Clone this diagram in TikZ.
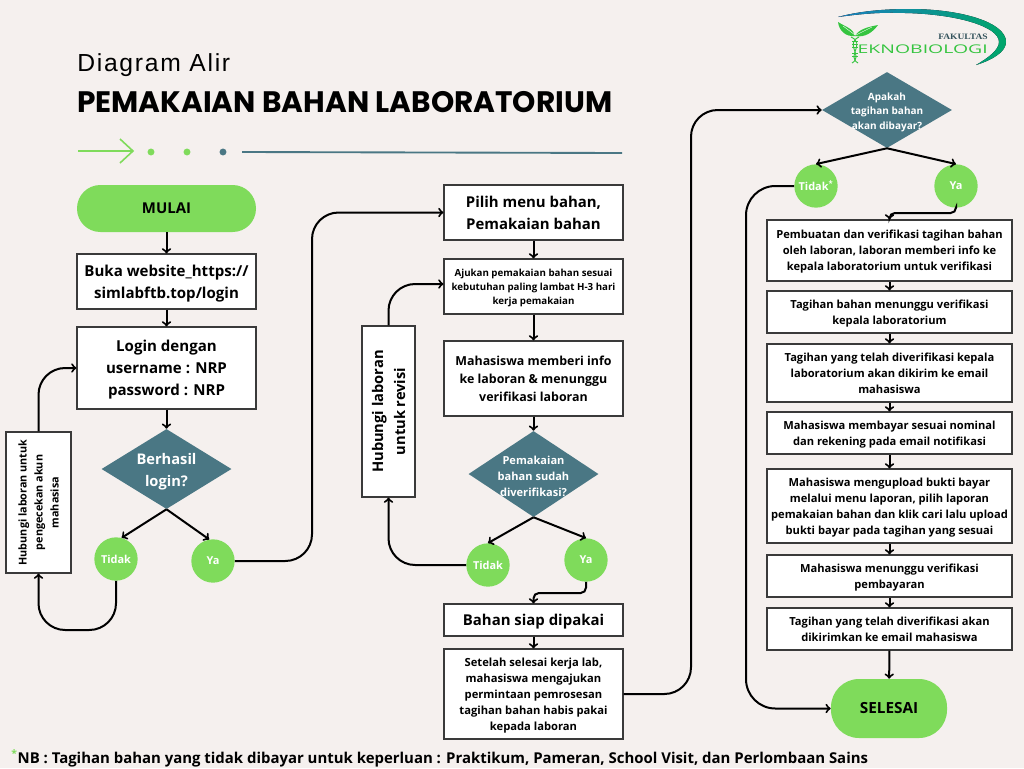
\documentclass[tikz,border=0pt]{standalone}
\usepackage{fontspec}
\setmainfont{Open Sans}
\newfontfamily\titlefont{Poppins}
\newfontfamily\subtitlefont[LetterSpace=7]{Liberation Sans}
\newfontfamily\logoserif{Liberation Serif}
\usepackage{xcolor}
\usepackage{tikz}
\usetikzlibrary{shapes.geometric}
\definecolor{pagebg}{HTML}{F5F0EE}
\definecolor{nodegreen}{HTML}{7FDB5B}
\definecolor{nodeteal}{HTML}{4A7784}
\definecolor{edgegrey}{HTML}{3A3A3A}
\definecolor{logogreen}{HTML}{35C43F}
\definecolor{logoblue}{HTML}{1A7FC0}
\definecolor{logoemerald}{HTML}{00A66A}
\tikzset{
  flow/.style={->, line width=1.5pt, black},
  boxnode/.style={rectangle, draw=edgegrey, line width=0.8pt, fill=white, align=center, inner sep=0pt, text depth=0pt, font=\bfseries},
  sidebox/.style={boxnode, minimum width=134.25pt},
  rightbox/.style={boxnode, minimum width=183.75pt, text depth=-2pt, font=\bfseries\fontsize{8.35}{12}\selectfont},
  decision/.style={diamond, fill=nodeteal, minimum width=97.5pt, inner sep=0pt},
  decisiontext/.style={align=center, text=white, yshift=-1.5pt, font=\bfseries\fontsize{7.5}{10.8}\selectfont},
  yesno/.style={circle, fill=nodegreen, minimum size=32.5pt, inner sep=0pt, text=white, font=\bfseries\fontsize{8.2}{10}\selectfont},
  terminal/.style={rectangle, rounded corners=17.5pt, fill=nodegreen, align=center, font=\bfseries\fontsize{11.2}{12}\selectfont},
}
\begin{document}
\begin{tikzpicture}[x=0.75pt, y=-0.75pt]
\fill[pagebg] (0,0) rectangle (1024,768);
\useasboundingbox (0,0) rectangle (1024,768);

% heading
\node[anchor=base west, inner sep=0pt, font=\subtitlefont\fontsize{18.5}{20}\selectfont] (subtitle) at (77,71) {Diagram Alir};
\node[anchor=base west, inner sep=0pt, font=\titlefont\bfseries\fontsize{22.2}{24}\selectfont] (title) at (77,112) {PEMAKAIAN BAHAN LABORATORIUM};
\draw[nodegreen, line width=1.2pt] (78,151) -- (133,151) (120,139) -- (133,151) -- (120,163);
\fill[nodegreen] (151,152) circle (2.6pt);
\fill[nodegreen] (187,152) circle (2.6pt);
\fill[nodeteal] (223,152) circle (2.6pt);
\draw[nodeteal, line width=1.4pt] (242,152) -- (622,153);

% logo
\fill[left color=logoblue, right color=logoemerald] (838,17) .. controls (860,11) and (885,9) .. (910,9) .. controls (960,9) and (1006,22) .. (1006,42) .. controls (1006,52) and (992,60) .. (976,65) .. controls (988,58) and (999,50) .. (999,42) .. controls (999,26) and (955,14) .. (905,13) .. controls (880,12) and (860,14) .. (838,17);
\fill[logogreen] (855,36) .. controls (854,29) and (846,27) .. (838,22) .. controls (839,31) and (846,37) .. (855,36);
\fill[logogreen] (855,36) .. controls (859,29) and (868,27) .. (878,25) .. controls (873,32) and (865,38) .. (855,36);
\draw[white, line width=0.3pt] (855,35) -- (843,26) (856,35) -- (872,27);
\draw[logogreen, line width=0.7pt] (851,37) .. controls (866,44) and (846,56) .. (858,63) (859,37) .. controls (844,44) and (864,56) .. (852,63);
\draw[logogreen, line width=0.5pt] (852,41) -- (858,41) (852,44) -- (858,44) (852,47) -- (858,47) (852,53) -- (858,53) (852,56) -- (858,56);
\node[anchor=base east, inner sep=0pt, text=nodeteal!70!black, font=\logoserif\bfseries\fontsize{6.2}{7}\selectfont] (logotop) at (988,39) {\scalebox{1.15}[1]{FAKULTAS}};
\node[anchor=base east, inner sep=0pt, text=logogreen, font=\fontsize{9}{10}\selectfont] (logoname) at (988,53) {\scalebox{1.62}[1]{EKNOBIOLOGI}};

% first column
\node[terminal, minimum width=134.25pt, minimum height=35.25pt] (mulai) at (166.5,208.5) {MULAI};
\node[sidebox, minimum height=41.25pt, font=\bfseries\fontsize{11.3}{16.5}\selectfont] (buka) at (166.5,281.5) {Buka website\_https://\\simlabftb.top/login};
\node[sidebox, minimum height=61.5pt, text depth=-2pt, font=\bfseries\fontsize{11.3}{16.5}\selectfont] (login) at (166.5,368) {Login dengan\\username : NRP\\password : NRP};
\node[decision, minimum height=60pt, label={[align=center, text=white, yshift=-2pt, font=\bfseries\fontsize{11}{17}\selectfont]center:Berhasil\\login?}] (berhasil) at (166.5,469) {};
\node[yesno] (tidaklogin) at (116,559) {Tidak};
\node[yesno] (yalogin) at (213,561) {Ya};
\node[boxnode, rotate=90, minimum width=105.75pt, minimum height=48.75pt, font=\bfseries\fontsize{8.1}{12}\selectfont] (hubakun) at (38.5,502.5) {Hubungi laboran untuk\\pengecekan akun\\mahasisa};

% second column
\node[sidebox, minimum height=41.25pt, font=\bfseries\fontsize{11.2}{16.5}\selectfont] (pilih) at (533.5,212.5) {Pilih menu bahan,\\Pemakaian bahan};
\node[sidebox, minimum height=41.25pt, font=\bfseries\fontsize{7.3}{10.5}\selectfont] (ajukan) at (533.5,286.5) {Ajukan pemakaian bahan sesuai\\kebutuhan paling lambat H-3 hari\\kerja pemakaian};
\node[sidebox, minimum height=56.25pt, font=\bfseries\fontsize{9.3}{13.5}\selectfont] (info) at (533.5,378.5) {Mahasiswa memberi info\\ke laboran \& menunggu\\verifikasi laboran};
\node[decision, minimum height=64.5pt, label={[decisiontext, font=\bfseries\fontsize{8.3}{12}\selectfont]center:Pemakaian\\bahan sudah\\diverifikasi?}] (pemakaian) at (533.5,474) {};
\node[yesno] (tidakverif) at (488,565) {Tidak};
\node[yesno] (yaverif) at (586,560) {Ya};
\node[boxnode, rotate=90, minimum width=128.25pt, minimum height=39.75pt, font=\bfseries\fontsize{11}{16.5}\selectfont] (hubrevisi) at (388.5,411.5) {Hubungi laboran\\untuk revisi};
\node[sidebox, minimum height=24pt, font=\bfseries\fontsize{11.2}{14}\selectfont] (siap) at (533.5,620) {Bahan siap dipakai};
\node[sidebox, minimum height=67.5pt, font=\bfseries\fontsize{8.4}{12}\selectfont] (setelah) at (533.5,694) {Setelah selesai kerja lab,\\mahasiswa mengajukan\\permintaan pemrosesan\\tagihan bahan habis pakai\\kepada laboran};

% third column
\node[decision, minimum height=57pt, label={[decisiontext]center:Apakah\\tagihan bahan\\akan dibayar?}] (apakah) at (887,110) {};
\node[yesno] (tidakbayar) at (816,186) {Tidak\textsuperscript{*}};
\node[yesno] (yabayar) at (956,186) {Ya};
\node[rightbox, minimum height=45.75pt] (buat) at (889.5,250.5) {Pembuatan dan verifikasi tagihan bahan\\oleh laboran, laboran memberi info ke\\kepala laboratorium untuk verifikasi};
\node[rightbox, minimum height=31.5pt] (tunggu) at (889.5,312) {Tagihan bahan menunggu verifikasi\\kepala laboratorium};
\node[rightbox, minimum height=43.5pt] (kirim) at (889.5,373) {Tagihan yang telah diverifikasi kepala\\laboratorium akan dikirim ke email\\mahasiswa};
\node[rightbox, minimum height=31.5pt] (bayar) at (889.5,433) {Mahasiswa membayar sesuai nominal\\dan rekening pada email notifikasi};
\node[rightbox, minimum height=55.5pt] (upload) at (889.5,506) {Mahasiswa mengupload bukti bayar\\melalui menu laporan, pilih laporan\\pemakaian bahan dan klik cari lalu upload\\bukti bayar pada tagihan yang sesuai};
\node[rightbox, minimum height=31.5pt] (tunggubayar) at (889.5,576) {Mahasiswa menunggu verifikasi\\pembayaran};
\node[rightbox, minimum height=31.5pt] (kirimemail) at (889.5,629) {Tagihan yang telah diverifikasi akan\\dikirimkan ke email mahasiswa};
\node[terminal, rounded corners=21pt, minimum width=87pt, minimum height=44.25pt, font=\bfseries\fontsize{11.5}{12}\selectfont] (selesai) at (889,708.5) {SELESAI};

% footnote
\node[anchor=base west, inner sep=0pt, font=\bfseries\fontsize{11.2}{13}\selectfont] (catatan) at (11,763) {{\color{nodegreen}\textsuperscript{*}}NB : Tagihan bahan yang tidak dibayar untuk keperluan : Praktikum, Pameran, School Visit, dan Perlombaan Sains};

% connectors first column
\draw[flow] (mulai) -- (buka);
\draw[flow] (buka) -- (login);
\draw[flow] (login) -- (berhasil);
\draw[flow] (berhasil.south) -- (tidaklogin.75);
\draw[flow] (berhasil.south) -- (yalogin.100);
\draw[flow, rounded corners=20pt] (tidaklogin.south) -- (116,630) -- (38.5,630) -- (hubakun.west);
\draw[flow, rounded corners=20pt] (hubakun.east) -- (38.5,368) -- (login.west);
\draw[flow, rounded corners=20pt] (yalogin.east) -- (312,561) -- (312,212.5) -- (pilih.west);

% connectors second column
\draw[flow] (pilih) -- (ajukan);
\draw[flow] (ajukan) -- (info);
\draw[flow] (info) -- (pemakaian);
\draw[flow] (pemakaian.south) -- (tidakverif.north);
\draw[flow] (pemakaian.south) -- (yaverif.north);
\draw[flow, rounded corners=20pt] (tidakverif.west) -- (388.5,565) -- (hubrevisi.west);
\draw[flow, rounded corners=20pt] (hubrevisi.east) -- (388.5,284) -- (ajukan.west |- 0,284);
\draw[flow, rounded corners=4pt] (yaverif.south) -- (586,593) -- (533.5,593) -- (siap.north);
\draw[flow] (siap) -- (setelah);
\draw[flow, rounded corners=20pt] (setelah.east) -- (691,694) -- (691,110) -- (apakah.west);

% connectors third column
\draw[flow] (apakah.south) -- (tidakbayar.north);
\draw[flow] (apakah.south) -- (yabayar.north);
\draw[flow, rounded corners=4pt] (yabayar.south) -- (956,213) -- (889.5,213) -- (buat.north);
\draw[flow, rounded corners=22pt] (tidakbayar.west) -- (746,186) -- (746,708.5) -- (selesai.west);
\draw[flow] (buat) -- (tunggu);
\draw[flow] (tunggu) -- (kirim);
\draw[flow] (kirim) -- (bayar);
\draw[flow] (bayar) -- (upload);
\draw[flow] (upload) -- (tunggubayar);
\draw[flow] (tunggubayar) -- (kirimemail);
\draw[flow] (kirimemail) -- (selesai);
\end{tikzpicture}
\end{document}
